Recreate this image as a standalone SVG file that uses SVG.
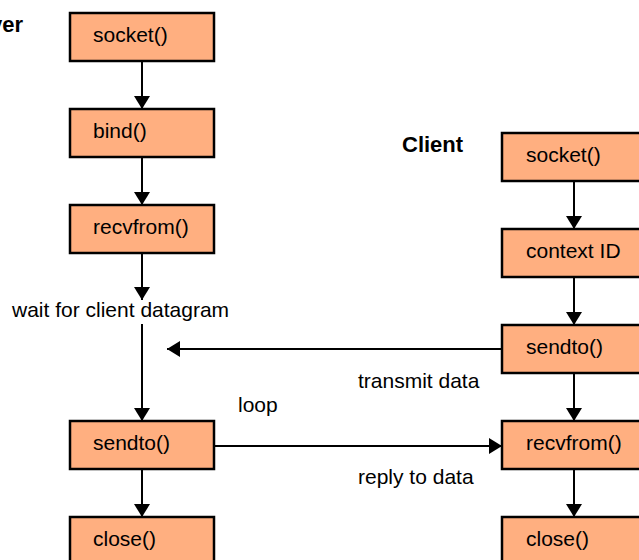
<svg xmlns="http://www.w3.org/2000/svg" width="639" height="560" viewBox="0 0 639 560">
<style>
.box{fill:#FFAF80;stroke:#000;stroke-width:2.5}
.t{font-family:"Liberation Sans",Arial,sans-serif;font-size:21px;fill:#000}
.b{font-family:"Liberation Sans",Arial,sans-serif;font-size:22px;font-weight:bold;fill:#000}
.c{stroke:#000;stroke-width:2;fill:none}
</style>
<defs>
<marker id="ah" markerUnits="userSpaceOnUse" markerWidth="13" markerHeight="16" refX="13" refY="8" orient="auto">
<path d="M0,0 L13,8 L0,16 Z" fill="#000"/>
</marker>
</defs>
<rect width="639" height="560" fill="#fff"/>
<text class="b" x="23" y="32" text-anchor="end">Server</text>
<text class="b" x="402" y="152">Client</text>
<g id="connectors">
<line class="c" x1="142" y1="61" x2="142" y2="109" marker-end="url(#ah)"/>
<line class="c" x1="142" y1="157" x2="142" y2="205" marker-end="url(#ah)"/>
<line class="c" x1="142" y1="253" x2="142" y2="300" marker-end="url(#ah)"/>
<line class="c" x1="142" y1="324" x2="142" y2="421" marker-end="url(#ah)"/>
<line class="c" x1="142" y1="469" x2="142" y2="517" marker-end="url(#ah)"/>
<line class="c" x1="574" y1="181" x2="574" y2="229" marker-end="url(#ah)"/>
<line class="c" x1="574" y1="277" x2="574" y2="325" marker-end="url(#ah)"/>
<line class="c" x1="574" y1="373" x2="574" y2="421" marker-end="url(#ah)"/>
<line class="c" x1="574" y1="469" x2="574" y2="517" marker-end="url(#ah)"/>
<line class="c" x1="502" y1="349" x2="167" y2="349" marker-end="url(#ah)"/>
<line class="c" x1="214" y1="446" x2="502" y2="446" marker-end="url(#ah)"/>
</g>
<text class="t" x="12" y="317">wait for client datagram</text>
<text class="t" x="358" y="388">transmit data</text>
<text class="t" x="238" y="412">loop</text>
<text class="t" x="358" y="484">reply to data</text>
<g id="s-socket"><rect class="box" x="70" y="13" width="144" height="48"/><text class="t" x="93" y="42">socket()</text></g>
<g id="s-bind"><rect class="box" x="70" y="109" width="144" height="48"/><text class="t" x="93" y="138">bind()</text></g>
<g id="s-recvfrom"><rect class="box" x="70" y="205" width="144" height="48"/><text class="t" x="93" y="234">recvfrom()</text></g>
<g id="s-sendto"><rect class="box" x="70" y="421" width="144" height="48"/><text class="t" x="93" y="450">sendto()</text></g>
<g id="s-close"><rect class="box" x="70" y="517" width="144" height="48"/><text class="t" x="93" y="546">close()</text></g>
<g id="c-socket"><rect class="box" x="502" y="133" width="144" height="48"/><text class="t" x="526" y="162">socket()</text></g>
<g id="c-context"><rect class="box" x="502" y="229" width="144" height="48"/><text class="t" x="526" y="258">context ID</text></g>
<g id="c-sendto"><rect class="box" x="502" y="325" width="144" height="48"/><text class="t" x="526" y="354">sendto()</text></g>
<g id="c-recvfrom"><rect class="box" x="502" y="421" width="144" height="48"/><text class="t" x="526" y="450">recvfrom()</text></g>
<g id="c-close"><rect class="box" x="502" y="517" width="144" height="48"/><text class="t" x="526" y="546">close()</text></g>
</svg>
